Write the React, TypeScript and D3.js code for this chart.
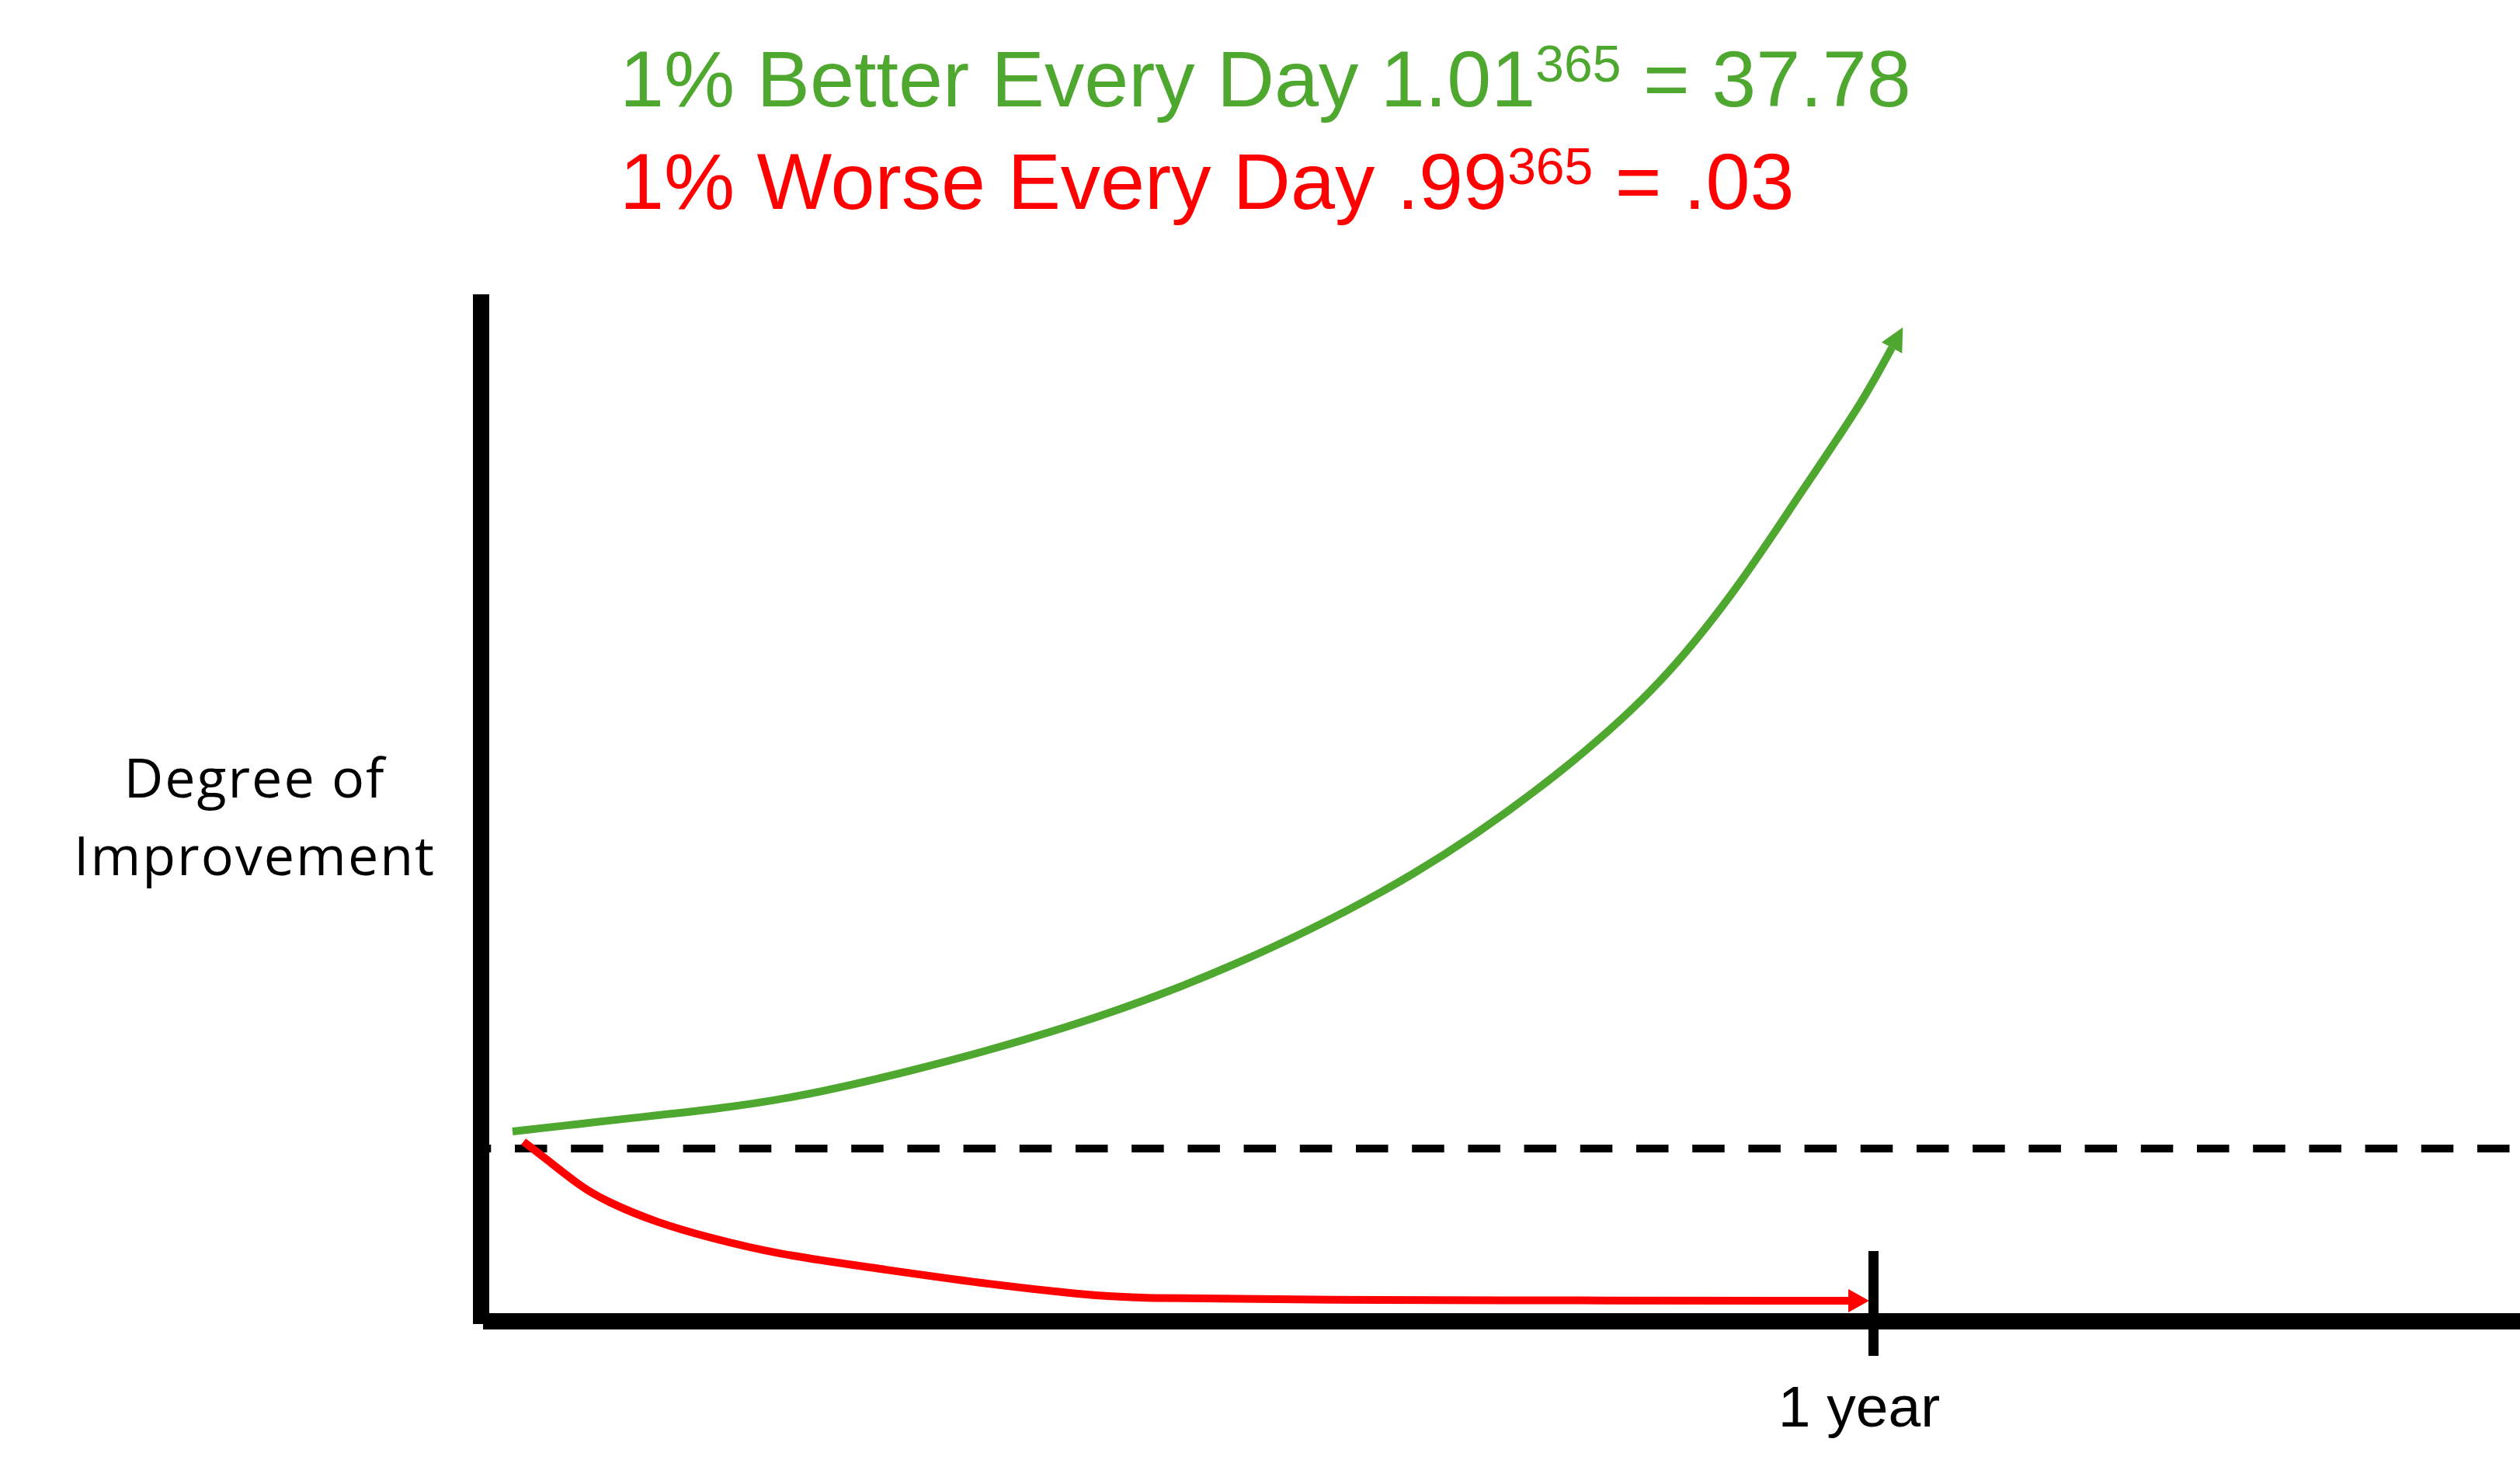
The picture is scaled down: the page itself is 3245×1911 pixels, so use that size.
import React from 'react';
import * as d3 from 'd3';

const W = 3245;
const H = 1911;

// ---- data (days since start, degree of improvement; 1 = starting level) ----
const greenDays = [8.24, 24.5, 38.8, 61.8, 81.7, 110.2, 153.2, 195.9, 246.4, 283.7, 309.5, 330.5, 345.8, 361.9, 369.8];
const greenValues = [1.099, 1.139, 1.175, 1.229, 1.292, 1.432, 1.688, 2.029, 2.582, 3.18, 3.683, 4.276, 4.793, 5.31, 5.634];

const redDays = [11.1, 19, 25.9, 32.7, 46.3, 59.7, 77.3, 103.3, 131.6, 157.7, 170, 218, 298, 358.4];
const redValues = [1.04, 0.906, 0.784, 0.694, 0.569, 0.485, 0.389, 0.308, 0.218, 0.155, 0.133, 0.124, 0.12, 0.119];

const baselineValue = 1;
const baselineEndDay = 531.8;
const yAxisTopValue = 5.944;
const xAxisEndDay = 535;
const yearTickDay = 365;
const yearTickLabel = '1 year';
const yAxisLabel = ['Degree of', 'Improvement'];

const titleGood = { pre: '1% Better Every Day 1.01', sup: '365', post: ' = 37.78' };
const titleBad = { pre: '1% Worse Every Day .99', sup: '365', post: ' = .03' };

const GREEN = '#4EA72E';
const RED = '#FF0000';

export default function App() {
  const x = d3.scaleLinear().domain([0, 365]).range([619.5, 2412.5]);
  const y = d3.scaleLinear().domain([0, 1]).range([1701.5, 1479]);

  const line = d3
    .line<[number, number]>()
    .x((d) => x(d[0]))
    .y((d) => y(d[1]))
    .curve(d3.curveBasis);

  const greenPts: [number, number][] = greenDays.map((d, i) => [d, greenValues[i]]);
  const redPts: [number, number][] = redDays.map((d, i) => [d, redValues[i]]);

  const y0 = y(0);
  const yBase = y(baselineValue);
  const xOrigin = x(0);

  const titleFont = "'Liberation Sans', Arial, sans-serif";
  const labelFont = "'Open Sans', sans-serif";
  const ls = 2;

  return (
    <svg
      width={W}
      height={H}
      viewBox={`0 0 ${W} ${H}`}
      style={{ position: 'absolute', left: 0, top: 0, display: 'block', background: '#fff' }}
    >
      <defs>
        <marker
          id="gHead"
          markerUnits="userSpaceOnUse"
          viewBox="0 0 30 30"
          markerWidth={30}
          markerHeight={30}
          refX={0}
          refY={15}
          orient="auto"
        >
          <path d="M0,0 L30,15 L0,30 Z" fill={GREEN} />
        </marker>
        <marker
          id="rHead"
          markerUnits="userSpaceOnUse"
          viewBox="0 0 27 30"
          markerWidth={27}
          markerHeight={30}
          refX={0}
          refY={15}
          orient="auto"
        >
          <path d="M0,0 L27,15 L0,30 Z" fill={RED} />
        </marker>
      </defs>
      <rect x={0} y={0} width={W} height={H} fill="#fff" />

      {/* titles */}
      <text x={798} y={137} fill={GREEN} fontFamily={titleFont} fontSize={102.5}>
        {titleGood.pre}
        <tspan dy={-32} fontSize={66}>{titleGood.sup}</tspan>
        <tspan dy={32} fontSize={102.5}>{titleGood.post}</tspan>
      </text>
      <text x={798} y={269} fill={RED} fontFamily={titleFont} fontSize={102.5}>
        {titleBad.pre}
        <tspan dy={-32} fontSize={66}>{titleBad.sup}</tspan>
        <tspan dy={32} fontSize={102.5}>{titleBad.post}</tspan>
      </text>

      {/* y axis label */}
      {yAxisLabel.map((t, i) => (
        <text
          key={t}
          x={327 + ls / 2}
          y={1027 + i * 100}
          textAnchor="middle"
          fontFamily={labelFont}
          fontSize={70}
          letterSpacing={ls}
          fill="#000"
        >
          {t}
        </text>
      ))}

      {/* dashed baseline */}
      <line
        x1={610}
        x2={x(baselineEndDay)}
        y1={yBase}
        y2={yBase}
        stroke="#000"
        strokeWidth={10}
        strokeDasharray="41.5 30.7"
        strokeDashoffset={19.2}
      />

      {/* curves */}
      <path d={line(greenPts) || ''} fill="none" stroke={GREEN} strokeWidth={10} markerEnd="url(#gHead)" />
      <path d={line(redPts) || ''} fill="none" stroke={RED} strokeWidth={10} markerEnd="url(#rHead)" />

      {/* axes */}
      <line x1={xOrigin} x2={xOrigin} y1={y(yAxisTopValue)} y2={y0 + 3.5} stroke="#000" strokeWidth={21} />
      <line x1={xOrigin + 2.5} x2={x(xAxisEndDay)} y1={y0} y2={y0} stroke="#000" strokeWidth={21} />

      {/* 1 year tick */}
      <line x1={x(yearTickDay)} x2={x(yearTickDay)} y1={1611} y2={1746} stroke="#000" strokeWidth={13} />
      <text
        x={x(yearTickDay) - 18.5}
        y={1837}
        textAnchor="middle"
        fontFamily={titleFont}
        fontSize={75}
        fill="#000"
      >
        {yearTickLabel}
      </text>
    </svg>
  );
}
